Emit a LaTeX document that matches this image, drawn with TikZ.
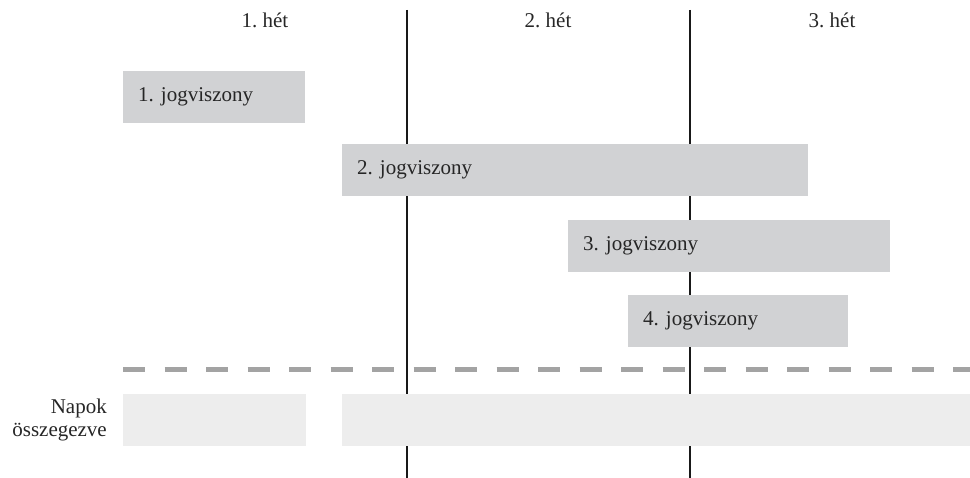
\documentclass[tikz,border=0pt]{standalone}
\usepackage{fontspec}
\setmainfont{Liberation Serif}
\frenchspacing
\definecolor{bargray}{HTML}{D1D2D4}
\definecolor{sumgray}{HTML}{EDEDED}
\definecolor{dashgray}{HTML}{A3A3A3}
\begin{document}
\begin{tikzpicture}[x=1pt,y=-1pt,
  txt/.style={font=\fontsize{21}{23}\selectfont, text=black!85, inner sep=0pt},
  bar/.style={txt, fill=bargray, draw=none, anchor=north west, minimum height=52pt,
    inner xsep=15pt, inner ysep=0pt, align=left},
  sumbar/.style={fill=sumgray, draw=none, anchor=north west, minimum height=52pt, inner sep=0pt},
  weekline/.style={line width=1.2pt, black!90},
  sepline/.style={line width=5pt, dashgray, dash pattern=on 22pt off 19.5pt}
]
\useasboundingbox (0,0) rectangle (970,478);
% separator
\coordinate (sepL) at (123,370);
\coordinate (sepR) at (975,370);
\draw[sepline] (sepL) -- (sepR);
% week lines
\coordinate (v1t) at (407,10); \coordinate (v1b) at (407,478);
\coordinate (v2t) at (690,10); \coordinate (v2b) at (690,478);
\draw[weekline] (v1t) -- (v1b);
\draw[weekline] (v2t) -- (v2b);
% week labels
\node[txt, anchor=base] (w1) at (265,28) {1. hét};
\node[txt, anchor=base] (w2) at (548,28) {2. hét};
\node[txt, anchor=base] (w3) at (832,28) {3. hét};
% bars
\node[bar, text width=152pt] (j1) at (123,71) {1. jogviszony};
\node[bar, text width=436pt] (j2) at (342,144) {2. jogviszony};
\node[bar, text width=292pt] (j3) at (568,220) {3. jogviszony};
\node[bar, text width=190pt] (j4) at (628,295) {4. jogviszony};
% sums
\node[sumbar, minimum width=183pt] (s1) at (123,394) {};
\node[sumbar, minimum width=640pt] (s2) at (342,394) {};
\node[txt, align=right, anchor=east] (napok) at (107,420) {Napok\\összegezve};
\end{tikzpicture}
\end{document}
